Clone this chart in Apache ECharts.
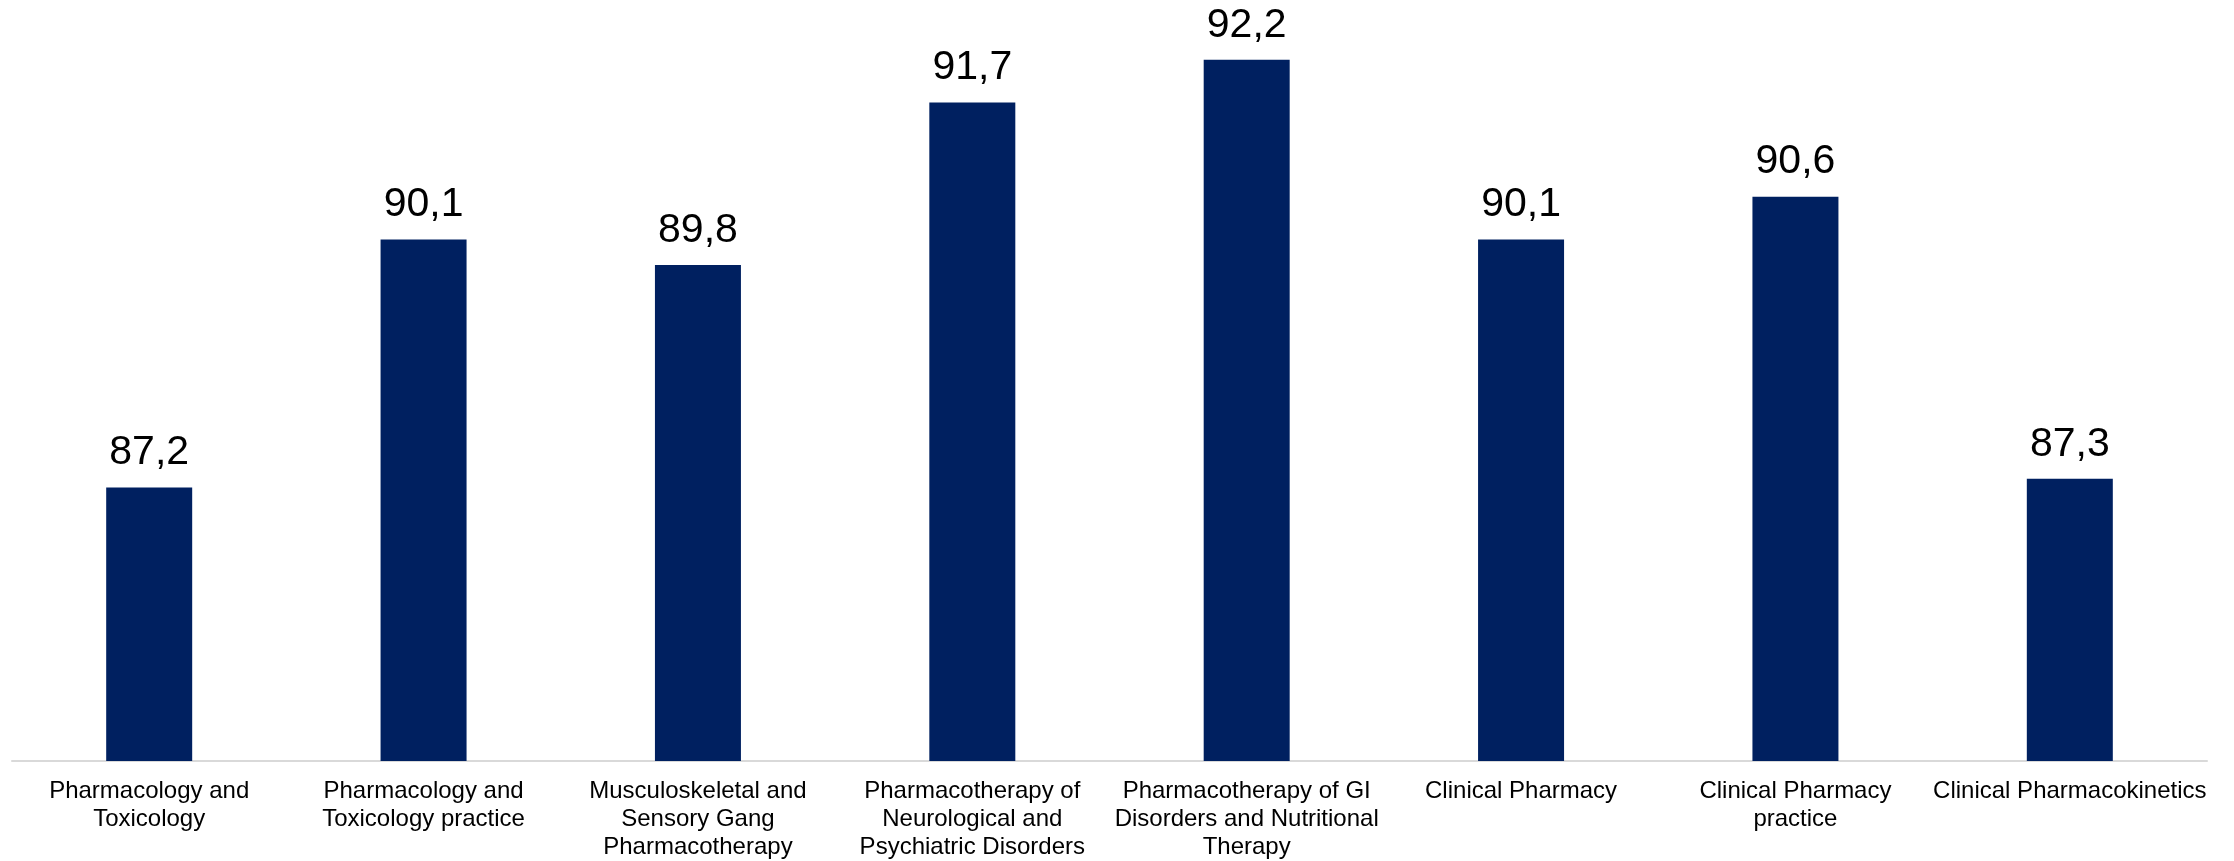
<!DOCTYPE html>
<html>
<head>
<meta charset="utf-8">
<script src="https://cdn.jsdelivr.net/npm/echarts@6/dist/echarts.min.js"></script>
<style>
  html, body { margin: 0; padding: 0; background: #fff; }
  #chart { width: 2234px; height: 861px; }
</style>
</head>
<body>
<div id="chart"></div>
<script>
var categories = [
    'Pharmacology and\nToxicology',
    'Pharmacology and\nToxicology practice',
    'Musculoskeletal and\nSensory Gang\nPharmacotherapy',
    'Pharmacotherapy of\nNeurological and\nPsychiatric Disorders',
    'Pharmacotherapy of GI\nDisorders and Nutritional\nTherapy',
    'Clinical Pharmacy',
    'Clinical Pharmacy\npractice',
    'Clinical Pharmacokinetics'
];
var scores = [87.2, 90.1, 89.8, 91.7, 92.2, 90.1, 90.6, 87.3];

var myChart = echarts.init(document.getElementById('chart'));
var option = {
    animation: false,
    grid: {
        left: 12,
        right: 27,
        top: 0,
        bottom: 99
    },
    xAxis: {
        type: 'category',
        data: categories,
        axisLine: { lineStyle: { color: '#d9d9d9', width: 2 } },
        axisTick: { show: false },
        axisLabel: {
            interval: 0,
            margin: 16,
            color: '#000',
            fontFamily: 'Liberation Sans',
            fontSize: 24,
            lineHeight: 28,
            align: 'center'
        }
    },
    yAxis: {
        type: 'value',
        min: 84,
        max: 92.9,
        show: false,
        splitLine: { show: false }
    },
    series: [
        {
            type: 'bar',
            data: scores,
            barWidth: 86,
            itemStyle: { color: '#002060' },
            label: {
                show: true,
                position: 'top',
                distance: 14,
                color: '#000',
                fontFamily: 'Liberation Sans',
                fontSize: 41,
                formatter: function (p) {
                    return p.value.toFixed(1).replace('.', ',');
                }
            }
        }
    ]
};
myChart.setOption(option);
</script>
</body>
</html>
